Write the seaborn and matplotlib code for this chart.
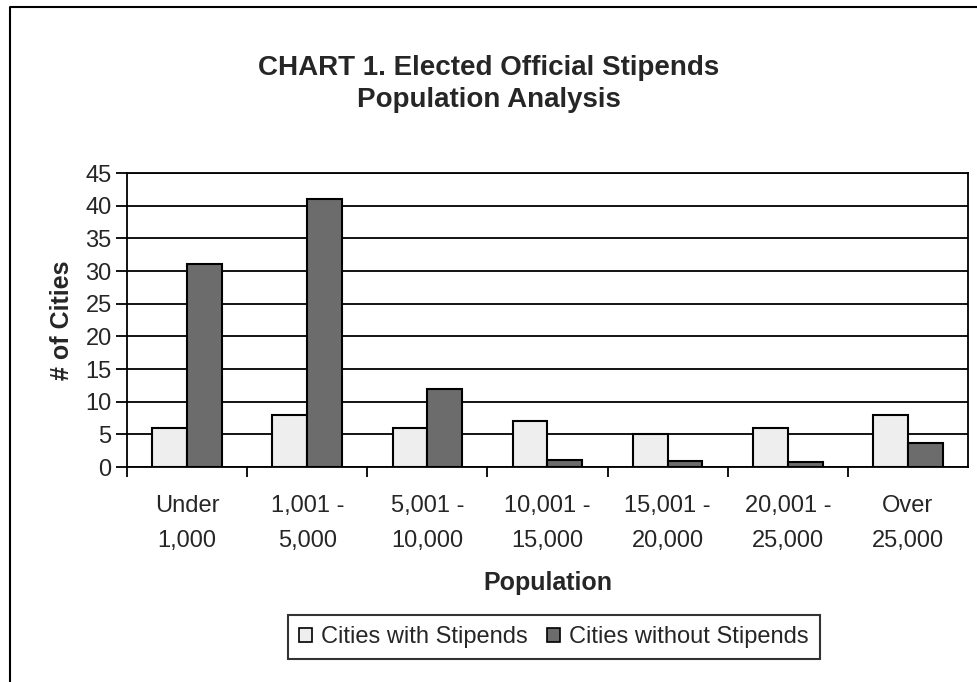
import matplotlib
matplotlib.use("Agg")
import matplotlib.pyplot as plt
from matplotlib.patches import Patch
from matplotlib.lines import Line2D
import seaborn as sns
import pandas as pd

categories = ["Under\n1,000", "1,001 -\n5,000", "5,001 -\n10,000", "10,001 -\n15,000",
              "15,001 -\n20,000", "20,001 -\n25,000", "Over\n25,000"]
with_stipends = [6, 8, 6, 7, 5, 6, 8]
without_stipends = [31, 41, 12, 1, 0.9, 0.7, 3.6]
series_names = ["Cities with Stipends", "Cities without Stipends"]
y_ticks = [0, 5, 10, 15, 20, 25, 30, 35, 40, 45]

df = pd.DataFrame({
    "Population": categories * 2,
    "Count": with_stipends + without_stipends,
    "Series": [series_names[0]] * len(categories) + [series_names[1]] * len(categories),
})

sns.set_theme(style="white")
plt.rcParams["font.family"] = ["Liberation Sans", "DejaVu Sans"]

colors = {series_names[0]: "#eeeeee", series_names[1]: "#6c6c6c"}

fig = plt.figure(figsize=(9.78, 6.82), dpi=100)
fig.patch.set_facecolor("white")
ax = fig.add_axes([127 / 978, 1 - 467 / 682, 841 / 978, 294 / 682])

sns.barplot(data=df, x="Population", y="Count", hue="Series", palette=colors,
            order=categories, hue_order=series_names, width=0.58,
            edgecolor="black", linewidth=1.5, ax=ax, legend=False, zorder=3)

ax.set_ylim(0, 45)
ax.set_xlim(-0.5, len(categories) - 0.5)
ax.set_yticks(y_ticks)
ax.set_yticklabels([str(v) for v in y_ticks], fontsize=17)
ax.yaxis.grid(True, color="black", linewidth=1.3)
ax.set_axisbelow(True)
for s in ax.spines.values():
    s.set_visible(True)
    s.set_color("black")
    s.set_linewidth(1.3)

ax.tick_params(axis="y", direction="out", length=8, width=1.3, color="black", pad=3, left=True)
ax.set_xticks(range(len(categories)))
ax.set_xticklabels(categories, fontsize=17, linespacing=1.78)
ax.tick_params(axis="x", which="major", length=0, pad=20)
ax.set_xticks([i - 0.5 for i in range(len(categories))], minor=True)
ax.tick_params(axis="x", which="minor", direction="out", length=7, width=1.3, color="black", bottom=True)

ax.set_ylabel("# of Cities", fontsize=18, fontweight="bold")
ax.yaxis.label.set_verticalalignment("center")
ax.yaxis.set_label_coords((62 - 127) / 841, 0.5)
ax.set_xlabel("Population", fontsize=18, fontweight="bold")
ax.xaxis.label.set_verticalalignment("center")
ax.xaxis.set_label_coords(0.5, -(583 - 467) / 294)

fig.text(0.5, 1 - 84 / 682, "CHART 1. Elected Official Stipends\nPopulation Analysis",
         ha="center", va="center", fontsize=20, fontweight="bold", linespacing=1.3)

handles = [Patch(facecolor=colors[n], edgecolor="black", linewidth=1.2, label=n) for n in series_names]
leg = fig.legend(handles=handles, loc="center", bbox_to_anchor=(554 / 978, 1 - 637 / 682),
                 ncol=2, fontsize=17, frameon=True, fancybox=False, edgecolor="black",
                 handlelength=0.55, handleheight=0.55, handletextpad=0.4, columnspacing=0.8,
                 borderpad=0.45)
leg.get_frame().set_linewidth(1.5)

fig.add_artist(Line2D([10 / 978, 10 / 978, 1.0], [0.0, 1 - 7 / 682, 1 - 7 / 682],
                      transform=fig.transFigure, color="black", linewidth=1.5))

fig.savefig("out.png", dpi=100)
